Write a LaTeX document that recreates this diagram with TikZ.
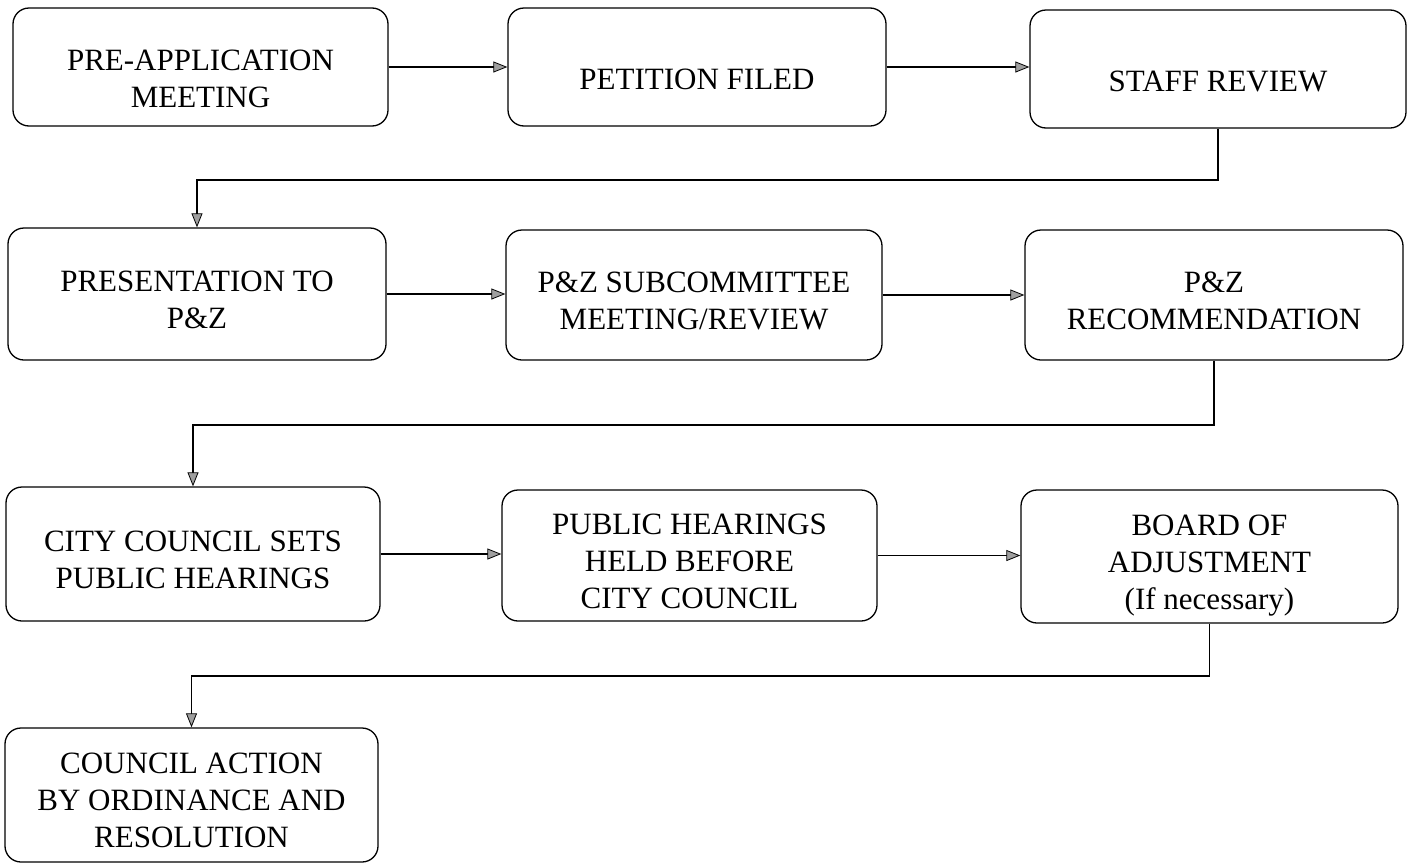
\documentclass[tikz,border=0pt]{standalone}
\usepackage{fontspec}
\setmainfont{Liberation Serif}
\usetikzlibrary{arrows.meta}
\newcommand\boxtext[2]{\raisebox{#1}[0pt][0pt]{\begin{tabular}{@{}c@{}}#2\end{tabular}}}
\begin{document}
\begin{tikzpicture}[x=1pt,y=-1pt,
  stepbox/.style={draw=black,line width=1.3pt,rounded corners=16pt,
    inner sep=0pt,font=\fontsize{31}{37}\selectfont},
  flow/.style={line width=1.2pt,-{Triangle[length=14pt,width=11pt,fill=gray!75,line width=0.8pt]}}]
\useasboundingbox (0,0) rectangle (1409,865);
% row 1
\node[stepbox,minimum width=375pt,minimum height=118pt] (a) at (200.5,67) {\boxtext{-21pt}{PRE-APPLICATION\\MEETING}};
\node[stepbox,minimum width=378pt,minimum height=118pt] (b) at (697,67) {\boxtext{-21pt}{PETITION FILED}};
\node[stepbox,minimum width=376pt,minimum height=118pt] (c) at (1218,69) {\boxtext{-21pt}{STAFF REVIEW}};
% row 2
\node[stepbox,minimum width=378pt,minimum height=132pt] (d) at (197,294) {\boxtext{-15pt}{PRESENTATION TO\\P\&Z}};
\node[stepbox,minimum width=376pt,minimum height=130pt] (e) at (694,295) {\boxtext{-15pt}{P\&Z SUBCOMMITTEE\\MEETING/REVIEW}};
\node[stepbox,minimum width=378pt,minimum height=130pt] (f) at (1214,295) {\boxtext{-15pt}{P\&Z\\RECOMMENDATION}};
% row 3
\node[stepbox,minimum width=374pt,minimum height=134pt] (g) at (193,554) {\boxtext{-15pt}{CITY COUNCIL SETS\\PUBLIC HEARINGS}};
\node[stepbox,minimum width=375pt,minimum height=131pt] (h) at (689.5,555.5) {\boxtext{-15pt}{PUBLIC HEARINGS\\HELD BEFORE\\CITY COUNCIL}};
\node[stepbox,minimum width=377pt,minimum height=133pt] (i) at (1209.5,556.5) {\boxtext{-15pt}{BOARD OF\\ADJUSTMENT\\(If necessary)}};
% row 4
\node[stepbox,minimum width=373pt,minimum height=134pt] (j) at (191.5,795) {\boxtext{-14pt}{COUNCIL ACTION\\BY ORDINANCE AND\\RESOLUTION}};
% turn levels
\coordinate (k1) at (0,180);
\coordinate (k2) at (0,425);
\coordinate (k3) at (0,676);
% connectors
\draw[flow] (a.east) -- (a.east -| b.west);
\draw[flow] (b.east) -- (b.east -| c.west);
\draw[flow] (c.south) -- (c.south |- k1) -| (d.north);
\draw[flow] (d.east) -- (d.east -| e.west);
\draw[flow] (e.east) -- (e.east -| f.west);
\draw[flow] (f.south) -- (f.south |- k2) -| (g.north);
\draw[flow] (g.east) -- (g.east -| h.west);
\draw[flow] (h.east) -- (h.east -| i.west);
\draw[flow] (i.south) -- (i.south |- k3) -| (j.north);
\end{tikzpicture}
\end{document}
